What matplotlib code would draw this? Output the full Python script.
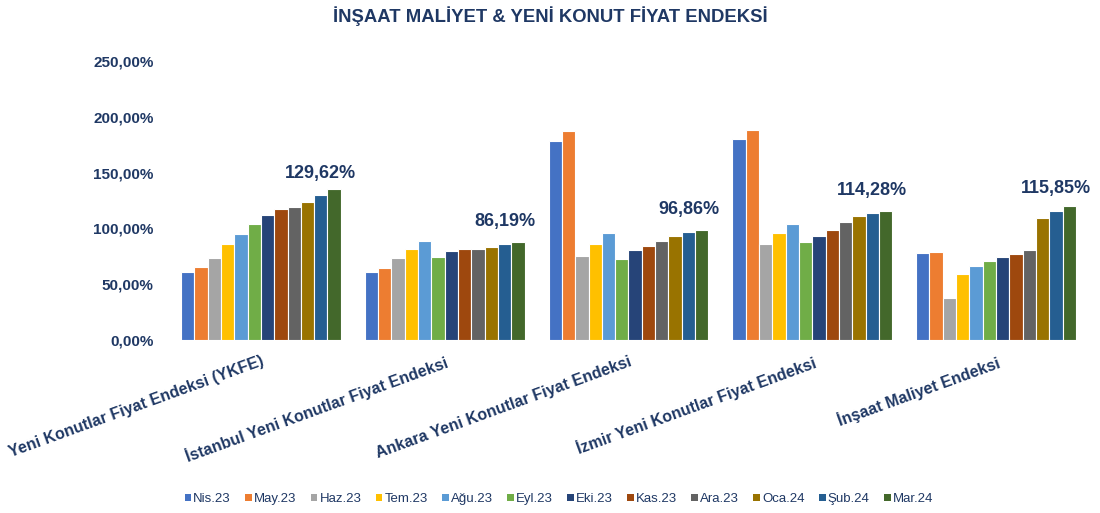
import numpy as np
import matplotlib
matplotlib.use('Agg')
import matplotlib.pyplot as plt
from matplotlib.patches import Patch

# categories and months
categories = ['Yeni Konutlar Fiyat Endeksi (YKFE)', 'İstanbul Yeni Konutlar Fiyat Endeksi',
              'Ankara Yeni Konutlar Fiyat Endeksi', 'İzmir Yeni Konutlar Fiyat Endeksi',
              'İnşaat Maliyet Endeksi']
months = ['Nis.23', 'May.23', 'Haz.23', 'Tem.23', 'Ağu.23', 'Eyl.23',
          'Eki.23', 'Kas.23', 'Ara.23', 'Oca.24', 'Şub.24', 'Mar.24']

# values per month, one entry per category (%)
nis23 = [60.7, 60.7, 178.0, 179.8, 78.0]
may23 = [65.4, 64.5, 187.0, 188.2, 79.1]
haz23 = [73.5, 73.7, 75.3, 86.0, 37.9]
tem23 = [85.8, 81.8, 86.3, 95.9, 59.4]
agu23 = [95.0, 88.4, 95.6, 103.7, 66.6]
eyl23 = [103.7, 74.4, 72.6, 87.5, 70.8]
eki23 = [111.8, 79.5, 80.6, 93.5, 74.4]
kas23 = [117.5, 81.3, 84.0, 98.6, 77.1]
ara23 = [119.0, 81.3, 88.4, 105.5, 80.6]
oca24 = [124.0, 83.6, 93.2, 111.1, 109.0]
sub24 = [129.62, 86.19, 96.86, 114.28, 115.85]
mar24 = [135.8, 88.1, 98.8, 115.6, 120.3]

series = [nis23, may23, haz23, tem23, agu23, eyl23, eki23, kas23, ara23, oca24, sub24, mar24]
colors = ['#4472C4', '#ED7D31', '#A5A5A5', '#FFC000', '#5B9BD5', '#70AD47',
          '#264478', '#9E480E', '#636363', '#997300', '#255E91', '#43682B']
navy = '#1F3864'

plt.rcParams['font.family'] = ['Liberation Sans', 'DejaVu Sans']

fig = plt.figure(figsize=(11, 5.13), dpi=100)
ax = fig.add_axes([0.1536, 0.337, 0.8355, 0.544])

x = np.arange(len(categories))
slot = 0.87 / len(series)
for i, (vals, c) in enumerate(zip(series, colors)):
    pos = x - 0.435 + (i + 0.5) * slot
    ax.bar(pos, vals, width=slot, color=c, edgecolor='white', linewidth=0.8)
    # data labels only on the Şub.24 series
    if months[i] == 'Şub.24':
        for px, v in zip(pos, vals):
            ax.annotate(f'{v:.2f}'.replace('.', ',') + '%', (px, v),
                        xytext=(0, 16), textcoords='offset points',
                        ha='center', va='center', fontsize=13,
                        fontweight='bold', color=navy)

ax.set_xlim(-0.5, len(categories) - 0.5)
ax.set_ylim(0, 250)
yt = [0, 50, 100, 150, 200, 250]
ax.set_yticks(yt)
ax.set_yticklabels([f'{v:.2f}'.replace('.', ',') + '%' for v in yt],
                   fontsize=11, fontweight='bold', color=navy)
ax.set_xticks(x)
ax.set_xticklabels(categories, rotation=20, ha='right', va='top',
                   rotation_mode='anchor', fontsize=11.5, fontweight='bold', color=navy)
ax.tick_params(axis='y', length=0, pad=11)
ax.tick_params(axis='x', length=0, pad=10)
for s in ax.spines.values():
    s.set_visible(False)

fig.suptitle('İNŞAAT MALİYET & YENİ KONUT FİYAT ENDEKSİ', x=0.5, y=0.968,
             fontsize=13.3, fontweight='bold', color=navy, va='center')

handles = [Patch(facecolor=c, label=m) for m, c in zip(months, colors)]
leg = fig.legend(handles=handles, loc='center', bbox_to_anchor=(0.508, 0.027), ncol=12,
                 frameon=False, fontsize=9.5, handlelength=0.5, handleheight=0.5,
                 handletextpad=0.15, columnspacing=1.1)
for t in leg.get_texts():
    t.set_color(navy)

fig.savefig('out.png', dpi=100)
